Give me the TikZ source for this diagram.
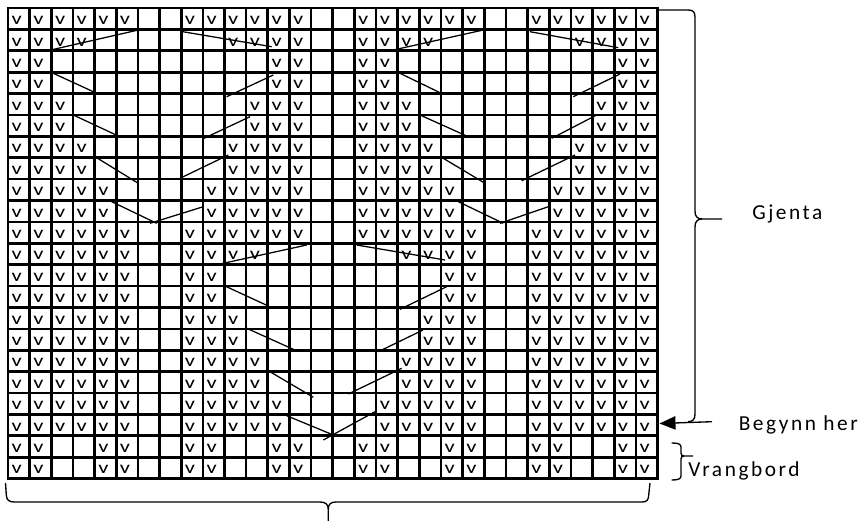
\documentclass[tikz,border=0pt]{standalone}
\usepackage{fontspec}
\usepackage{graphicx}
\setmainfont{Carlito}
\newfontfamily\lblfont[LetterSpace=12]{Carlito}
\usetikzlibrary{arrows.meta}
\begin{document}
\begin{tikzpicture}[x=0.75pt,y=-0.75pt,
  gridline/.style={line width=2pt,black,line cap=rect},
  cableline/.style={line width=0.95pt,black},
  bracestyle/.style={line width=1pt,black},
  vmark/.style={inner sep=0pt,font=\fontsize{13}{13}\selectfont},
  lbl/.style={inner sep=0pt,font=\lblfont\fontsize{16}{18}\selectfont}]
\useasboundingbox (0,0) rectangle (861,521);
\def\cellw{21.65}
\def\rowh{21.39}
% grid
\foreach \i in {0,...,30}
  \draw[gridline] ({8+\i*\cellw},8) -- ({8+\i*\cellw},{8+22*\rowh});
\foreach \j in {0,...,22}
  \draw[gridline] (8,{8+\j*\rowh}) -- ({8+30*\cellw},{8+\j*\rowh});
% knit marks
\foreach \r/\cl in {
  1/{1,2,3,4,5,6,9,10,11,12,13,14,17,18,19,20,21,22,25,26,27,28,29,30},
  2/{1,2,3,4,11,12,13,14,17,18,19,20,27,28,29,30},
  3/{1,2,13,14,17,18,29,30},
  4/{1,2,13,14,17,18,29,30},
  5/{1,2,3,12,13,14,17,18,19,28,29,30},
  6/{1,2,3,12,13,14,17,18,19,28,29,30},
  7/{1,2,3,4,11,12,13,14,17,18,19,20,27,28,29,30},
  8/{1,2,3,4,11,12,13,14,17,18,19,20,27,28,29,30},
  9/{1,2,3,4,5,10,11,12,13,14,17,18,19,20,21,26,27,28,29,30},
  10/{1,2,3,4,5,10,11,12,13,14,17,18,19,20,21,26,27,28,29,30},
  11/{1,2,3,4,5,6,9,10,11,12,13,14,17,18,19,20,21,22,25,26,27,28,29,30},
  12/{1,2,3,4,5,6,9,10,11,12,19,20,21,22,25,26,27,28,29,30},
  13/{1,2,3,4,5,6,9,10,21,22,25,26,27,28,29,30},
  14/{1,2,3,4,5,6,9,10,21,22,25,26,27,28,29,30},
  15/{1,2,3,4,5,6,9,10,11,20,21,22,25,26,27,28,29,30},
  16/{1,2,3,4,5,6,9,10,11,20,21,22,25,26,27,28,29,30},
  17/{1,2,3,4,5,6,9,10,11,12,19,20,21,22,25,26,27,28,29,30},
  18/{1,2,3,4,5,6,9,10,11,12,19,20,21,22,25,26,27,28,29,30},
  19/{1,2,3,4,5,6,9,10,11,12,13,18,19,20,21,22,25,26,27,28,29,30},
  20/{1,2,3,4,5,6,9,10,11,12,13,18,19,20,21,22,25,26,27,28,29,30},
  21/{1,2,5,6,9,10,13,14,17,18,21,22,25,26,29,30},
  22/{1,2,5,6,9,10,13,14,17,18,21,22,25,26,29,30}} {
  \foreach \c in \cl {
    \node[vmark] (v-\r-\c) at ({8+(\c-0.5)*\cellw-2},{8+(\r-0.5)*\rowh+1.8}) {\scalebox{1.3}[1]{v}};
  }
}
% cable lines
\draw[cableline] (50.7,50) -- (138.3,30);
\draw[cableline] (182.7,31.7) -- (271.7,46.7);
\draw[cableline] (393.3,50) -- (483.3,30);
\draw[cableline] (530,31.7) -- (618.3,47.7);
\draw[cableline] (53.3,73.3) -- (93.3,91.7);
\draw[cableline] (273.3,75) -- (226.7,96.7);
\draw[cableline] (400,73.3) -- (440,92.7);
\draw[cableline] (620,74) -- (573.3,96.7);
\draw[cableline] (73.3,115) -- (118.3,136);
\draw[cableline] (204,138.3) -- (250,116.7);
\draw[cableline] (420,115) -- (466.7,136);
\draw[cableline] (596.7,115) -- (551.7,138.3);
\draw[cableline] (95,156.7) -- (138.3,183.3);
\draw[cableline] (180,178.3) -- (228.3,155);
\draw[cableline] (443.3,158.3) -- (485,183.3);
\draw[cableline] (575,155) -- (521.7,180.7);
\draw[cableline] (111.7,201.7) -- (156.7,223.3);
\draw[cableline] (150,223.3) -- (203.3,206.7);
\draw[cableline] (458.3,201.7) -- (503.3,223.3);
\draw[cableline] (500,223.3) -- (548.3,206.7);
\draw[cableline] (306.7,245) -- (220,264);
\draw[cableline] (356.7,245) -- (445,260);
\draw[cableline] (225,286) -- (268.3,306);
\draw[cableline] (446.7,286.7) -- (400,309.3);
\draw[cableline] (246.7,328.3) -- (293.3,349.3);
\draw[cableline] (423,330) -- (378.3,351.7);
\draw[cableline] (270,371.7) -- (313.3,397.3);
\draw[cableline] (401.7,368.3) -- (348.3,394);
\draw[cableline] (285,415) -- (333.3,435);
\draw[cableline] (375,411.7) -- (323.3,440);
% brace: Gjenta
\draw[bracestyle] (659,10) -- (688,10) .. controls (693,10) and (695,12) .. (695,17) -- (695,211) .. controls (695,216) and (697,219) .. (702,219) -- (722,219);
\draw[bracestyle] (702,219) .. controls (697,219) and (695,222) .. (695,227) -- (695,414) .. controls (695,419) and (693,421.7) .. (688,421.7);
% arrow: Begynn her
\coordinate (arrS) at (712,421.7);
\coordinate (arrT) at (659.5,423.5);
\draw[bracestyle,-{Triangle[length=12pt,width=10pt]}] (arrS) -- (arrT);
% brace: Vrangbord
\draw[bracestyle] (671.7,443) .. controls (678,443) and (681,444) .. (681,447) -- (681,453) .. controls (681,455) and (682,456) .. (684,456) -- (693,456);
\draw[bracestyle] (684,456) .. controls (682,456) and (681,457) .. (681,459) -- (681,476) .. controls (681,479) and (678,480) .. (671.7,480);
% bottom brace
\draw[bracestyle] (5.5,483) -- (6.3,495) .. controls (6.6,500) and (9,502) .. (14,502) -- (320,502) .. controls (325,502) and (328.3,504) .. (328.3,509) -- (328.3,521);
\draw[bracestyle] (328.3,509) .. controls (328.3,504) and (331,502) .. (336,502) -- (642,502) .. controls (647,502) and (648.5,500) .. (648.7,495) -- (650,483);
% labels
\node[lbl,anchor=base west] (gjenta) at (752,219) {Gjenta};
\node[lbl,anchor=base east] (begynn) at (858,430) {Begynn her};
\node[lbl,anchor=base west] (vrang) at (688,476) {Vrangbord};
\end{tikzpicture}
\end{document}
